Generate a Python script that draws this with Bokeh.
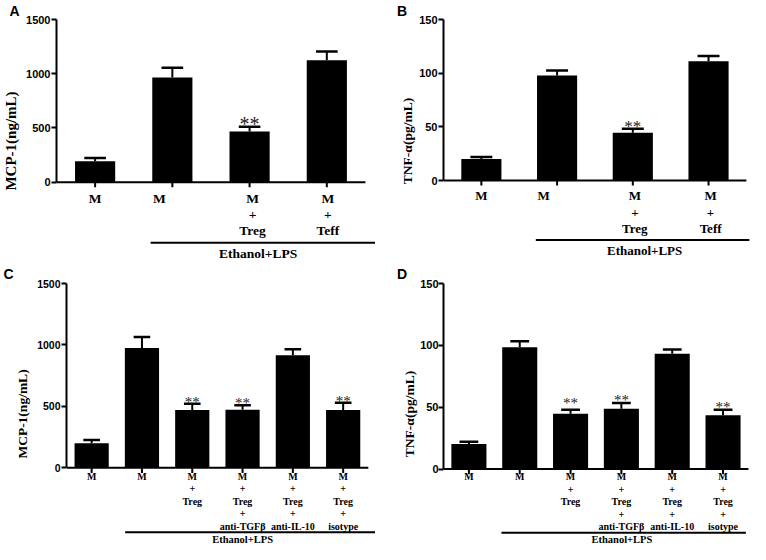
from bokeh.plotting import figure
from bokeh.models import Range1d, FixedTicker, ColumnDataSource
from bokeh.core.properties import value
from bokeh.layouts import column, row
from bokeh.embed import file_html
from bokeh.resources import INLINE

# ---------------- data ----------------
panel_letters = ["A", "B", "C", "D"]
group_label = "Ethanol+LPS"

ab_labels = ["M", "M", "M\n+\nTreg", "M\n+\nTeff"]
cd_labels = ["M", "M", "M\n+\nTreg", "M\n+\nTreg\n+\nanti-TGFβ",
             "M\n+\nTreg\n+\nanti-IL-10", "M\n+\nTreg\n+\nisotype"]

mcp_ticks = [0, 500, 1000, 1500]
tnf_ticks = [0, 50, 100, 150]
mcp_label = "MCP-1(ng/mL)"
tnf_label = "TNF-α(pg/mL)"

a_means = [192, 966, 466, 1125]
a_sem = [30, 88, 46, 79]
a_sig = ["", "", "**", ""]

b_means = [20.0, 97.9, 44.5, 111.2]
b_sem = [1.9, 4.7, 3.8, 4.8]
b_sig = ["", "", "**", ""]

c_means = [200, 975, 470, 473, 917, 470]
c_sem = [27, 89, 51, 37, 48, 59]
c_sig = ["", "", "**", "**", "", "**"]

d_means = [20.2, 98.5, 44.8, 48.7, 93.2, 43.4]
d_sem = [1.9, 4.8, 3.1, 4.6, 3.5, 4.5]
d_sig = ["", "", "**", "**", "", "**"]

SERIF = "Liberation Serif"
SANS = "Liberation Sans"
EDGE = 8   # space left unused at the right and bottom of each frame


def panel(letter, labels, means, sem, sig, ticks, ylabel, st):
    n = len(labels)
    w, h = st["size"]
    fl, ft, zy, ar = st["frame_left"], st["frame_top"], st["zero_y"], st["axis_right"]
    ymax = ticks[-1]
    s = ymax / (zy - ft)              # data units per pixel (y)
    ux = (ar - fl) / n                # pixels per category
    p = figure(width=w, height=h,
               x_range=Range1d(0, (w - EDGE - fl) / ux),
               y_range=Range1d(-(h - EDGE - zy) * s, ymax),
               x_axis_location=None,
               output_backend="svg", toolbar_location=None,
               min_border=0,
               min_border_left=fl, min_border_right=0,
               min_border_top=ft, min_border_bottom=0,
               outline_line_color=None, background_fill_color="white",
               border_fill_color="white")
    p.grid.visible = False

    centers = [i + 0.5 for i in range(n)]
    upper = [m + e for m, e in zip(means, sem)]
    src = ColumnDataSource(dict(
        x=centers, top=means, up=upper,
        cl=[c - st["cap"] / 2 for c in centers],
        cr=[c + st["cap"] / 2 for c in centers],
        lab=labels, sig=sig,
        lx=[c + d / ux for c, d in zip(centers, st["nudge"])],
        ly=[-st["cat_y"] * s] * n,
        sy=[u + l * s for u, l in zip(upper, st["lift"])],
        t0=[0] * n, t1=[-5 * s] * n))
    p.vbar(x="x", top="top", width=st["bw"], source=src,
           fill_color="black", line_color=None)
    p.segment(x0="x", y0="top", x1="x", y1="up", source=src,
              line_color="black", line_width=2)
    p.segment(x0="cl", y0="up", x1="cr", y1="up", source=src,
              line_color="black", line_width=2.5)

    # x axis line and ticks
    p.segment(x0=[0], y0=[0], x1=[n], y1=[0], line_color="black", line_width=2)
    p.segment(x0="x", y0="t0", x1="x", y1="t1", source=src,
              line_color="black", line_width=2)

    # y axis
    ya = p.yaxis[0]
    ya.ticker = FixedTicker(ticks=ticks)
    ya.bounds = (0, ymax)
    ya.axis_line_width = 2
    ya.major_tick_line_width = 2
    ya.major_tick_out = 5
    ya.major_tick_in = 0
    ya.minor_tick_line_color = None
    ya.major_label_standoff = st["tick_standoff"]
    ya.major_label_text_font = SANS
    ya.major_label_text_font_style = "bold"
    ya.major_label_text_font_size = st["tick_fs"]
    ya.major_label_text_color = "black"
    ya.axis_label = ylabel
    ya.axis_label_text_font = SERIF
    ya.axis_label_text_font_style = "bold"
    ya.axis_label_text_font_size = st["ylab_fs"]
    ya.axis_label_standoff = st["ylab_standoff"]
    ya.axis_label_text_color = "black"

    # category labels
    p.text(x="lx", y="ly", text="lab", source=src,
           text_font=value(SERIF), text_font_style="bold",
           text_font_size=value(st["cat_fs"]), text_align="center",
           text_baseline="top", text_line_height=st["cat_lh"],
           text_color="black")
    # significance marks
    p.text(x="x", y="sy", text="sig", source=src,
           text_font=value(SERIF), text_font_size=value(st["star_fs"]),
           text_align="center", text_baseline="alphabetic",
           text_color="#222222")
    # group line + label
    gx0, gx1, gy = st["gline"]
    p.segment(x0=[gx0], y0=[-gy * s], x1=[gx1], y1=[-gy * s],
              line_color="black", line_width=2)
    gxl, gyl = st["glabel"]
    p.text(x=[gxl], y=[-gyl * s], text=[group_label],
           text_font=value(SERIF), text_font_style="bold",
           text_font_size=value(st["g_fs"]), text_align="center",
           text_baseline="middle", text_color="black")

    # panel letter as title
    p.title.text = letter
    p.title.align = "left"
    p.title.offset = st["letter_x"] - fl
    p.title.standoff = st["letter_standoff"]
    p.title.text_font = SANS
    p.title.text_font_style = "bold"
    p.title.text_font_size = "14px"
    p.title.text_color = "black"
    return p


st_a = dict(size=(375, 262), frame_left=50, frame_top=16, zero_y=175.3, axis_right=357,
            bw=0.52, cap=0.28, tick_fs="11px", tick_standoff=1,
            ylab_fs="15px", ylab_standoff=4,
            cat_fs="13.5px", cat_lh=1.08, cat_y=8.3, star_fs="20px",
            nudge=[0, -13, 3, 1], lift=[3, 3, 3, 3],
            gline=(1.219, 4.14, 59.4), glabel=(2.61, 70), g_fs="13.5px",
            letter_x=3, letter_standoff=1)
st_b = dict(size=(375, 262), frame_left=68, frame_top=16, zero_y=173.7, axis_right=363,
            bw=0.53, cap=0.29, tick_fs="11px", tick_standoff=1,
            ylab_fs="13.5px", ylab_standoff=1,
            cat_fs="13px", cat_lh=1.08, cat_y=7.7, star_fs="17px",
            nudge=[0, -13, 2, 2], lift=[2, 2, 2, 2],
            gline=(1.219, 4.04, 58.3), glabel=(2.656, 68.3), g_fs="13px",
            letter_x=21.5, letter_standoff=1)
st_c = dict(size=(375, 282), frame_left=66, frame_top=17, zero_y=198.5, axis_right=360,
            bw=0.68, cap=0.33, tick_fs="10.5px", tick_standoff=1,
            ylab_fs="13.5px", ylab_standoff=4,
            cat_fs="10px", cat_lh=1.14, cat_y=3, star_fs="15px",
            nudge=[0] * 6, lift=[2] * 6,
            gline=(1.166, 6.166, 63.5), glabel=(3.5, 70.5), g_fs="10.5px",
            letter_x=3, letter_standoff=3)
st_d = dict(size=(375, 282), frame_left=68, frame_top=18, zero_y=200, axis_right=365,
            bw=0.69, cap=0.37, tick_fs="11px", tick_standoff=0,
            ylab_fs="13.5px", ylab_standoff=0,
            cat_fs="10px", cat_lh=1.14, cat_y=2.2, star_fs="15px",
            nudge=[0] * 6, lift=[2, 2, 7, 3, 2, 3],
            gline=(1.14, 5.95, 62.5), glabel=(3.51, 69.5), g_fs="10.5px",
            letter_x=21.5, letter_standoff=3)

pa = panel(panel_letters[0], ab_labels, a_means, a_sem, a_sig, mcp_ticks, mcp_label, st_a)
pb = panel(panel_letters[1], ab_labels, b_means, b_sem, b_sig, tnf_ticks, tnf_label, st_b)
pc = panel(panel_letters[2], cd_labels, c_means, c_sem, c_sig, mcp_ticks, mcp_label, st_c)
pd_ = panel(panel_letters[3], cd_labels, d_means, d_sem, d_sig, tnf_ticks, tnf_label, st_d)

layout = column(row(pa, pb), row(pc, pd_))
open("out.html", "w").write(file_html(layout, INLINE))
